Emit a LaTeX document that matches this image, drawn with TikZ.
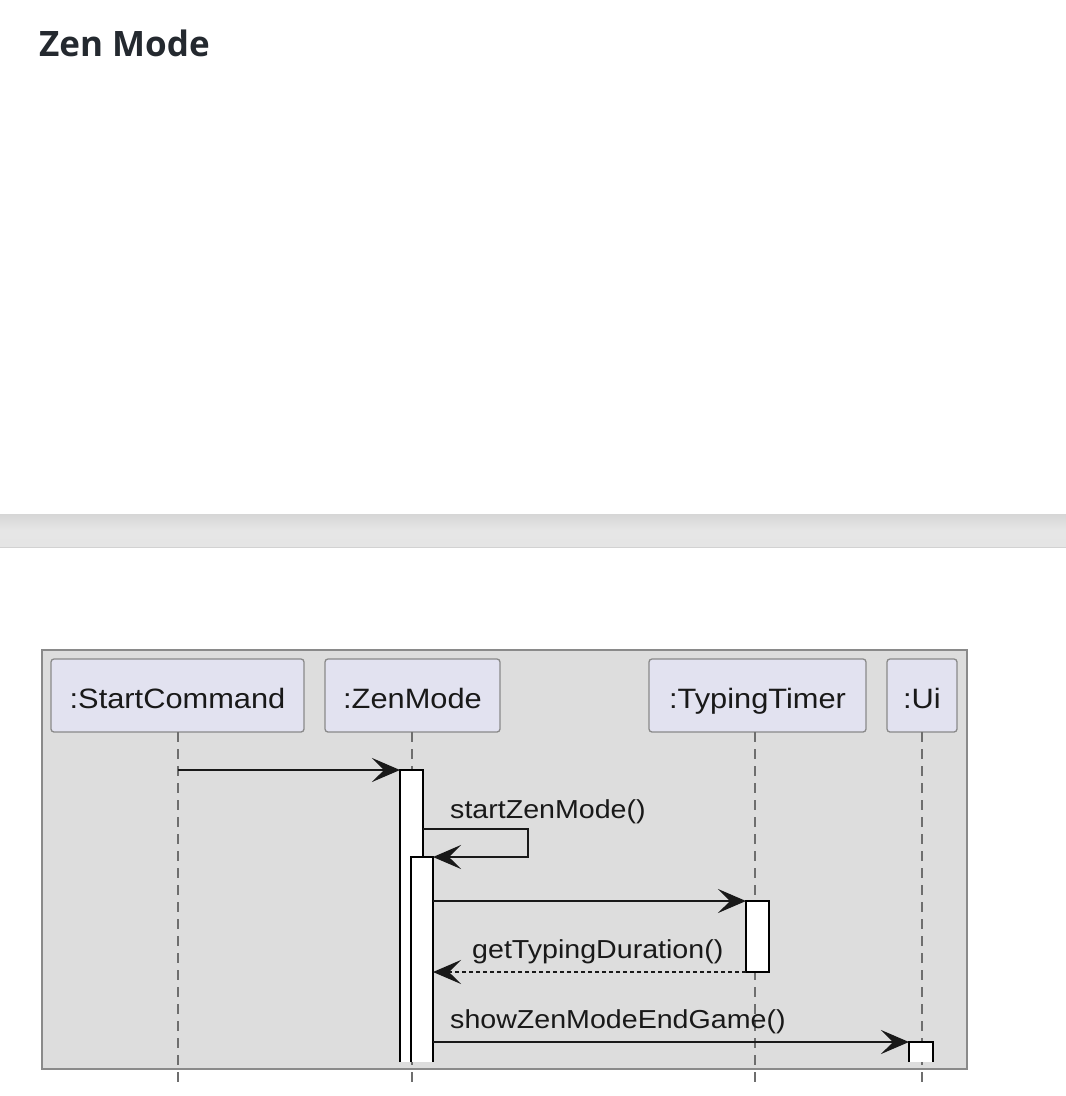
\documentclass[tikz,border=0pt]{standalone}
\usepackage{fontspec}
\usetikzlibrary{arrows.meta}
\newfontfamily\umlfont[FakeStretch=1.1]{Liberation Sans}
\newfontfamily\titlefont{Open Sans}
\definecolor{titlecol}{HTML}{24292F}
\definecolor{framefill}{HTML}{DDDDDD}
\definecolor{framedraw}{HTML}{8A8A8A}
\definecolor{partfill}{HTML}{E2E2F0}
\definecolor{partdraw}{HTML}{8A8A8A}
\definecolor{lifecol}{HTML}{6E6E6E}
\tikzset{
  partbox/.style={draw=partdraw, fill=partfill, line width=1.3pt, rounded corners=3pt},
  partlabel/.style={inner sep=0pt, anchor=base, font=\umlfont\fontsize{28}{30}\selectfont, text=black!90},
  msglabel/.style={inner sep=0pt, anchor=base west, font=\umlfont\fontsize{26}{28}\selectfont, text=black!90},
  lifeline/.style={draw=lifecol, line width=1.4pt, dash pattern=on 10pt off 7pt},
  actbar/.style={draw=black, fill=white, line width=2.2pt},
  msg/.style={draw=black!90, line width=2pt, -{Stealth[length=28pt, width=24pt, inset=12pt]}},
  retmsg/.style={msg, dash pattern=on 4pt off 3pt},
}
\begin{document}
\begin{tikzpicture}[x=1pt, y=-1pt]
\useasboundingbox (0,0) rectangle (1066,1096);
\fill[white] (0,0) rectangle (1066,1096);
% title
\node[anchor=base west, inner sep=0pt, font=\titlefont\bfseries\fontsize{35}{40}\selectfont, text=titlecol] (title) at (39,56) {Zen Mode};
% gray band
\shade[top color={rgb,255:red,214;green,214;blue,214}, bottom color={rgb,255:red,229;green,229;blue,229}, middle color={rgb,255:red,230;green,230;blue,230}] (0,514) rectangle (1066,547);
\draw[draw={rgb,255:red,210;green,210;blue,210}, line width=0.8pt] (0,547) -- (1066,547);
% frame
\node[draw=framedraw, fill=framefill, line width=1.5pt, minimum width=925pt, minimum height=419pt, inner sep=0pt, outer sep=0pt, anchor=north west] (frame) at (42,650) {};
% participants
\node[partbox, minimum width=253pt, minimum height=73pt, outer sep=0pt, anchor=north west] (sc) at (51,659) {};
\node[partbox, minimum width=175pt, minimum height=73pt, outer sep=0pt, anchor=north west] (zm) at (325,659) {};
\node[partbox, minimum width=217pt, minimum height=73pt, outer sep=0pt, anchor=north west] (tt) at (649,659) {};
\node[partbox, minimum width=70pt, minimum height=73pt, outer sep=0pt, anchor=north west] (ui) at (887,659) {};
\node[partlabel] (scl) at (177.5,708) {:StartCommand};
\node[partlabel] (zml) at (412.5,708) {:ZenMode};
\node[partlabel] (ttl) at (757.5,708) {:TypingTimer};
\node[partlabel] (uil) at (922,708) {:Ui};
% lifeline end points
\coordinate (scE) at (178,1083);
\coordinate (zmE) at (412,1083);
\coordinate (ttE) at (755,1083);
\coordinate (uiE) at (922,1083);
\draw[lifeline] (sc.south -| scE) -- (scE);
\draw[lifeline] (zm.south -| zmE) -- (zmE);
\draw[lifeline] (tt.south -| ttE) -- (ttE);
\draw[lifeline] (ui.south -| uiE) -- (uiE);
% activation bars (open at the bottom)
\fill[white] (400,770) rectangle (423,1062);
\draw[actbar, fill=none] (400,1062) -- (400,770) -- (423,770) -- (423,1062);
\fill[white] (411,857) rectangle (433,1062);
\draw[actbar, fill=none] (411,1062) -- (411,857) -- (433,857) -- (433,1062);
\node[actbar, minimum width=23pt, minimum height=71pt, inner sep=0pt, outer sep=0pt, anchor=north west] (ttbar) at (746,901) {};
\fill[white] (909,1042) rectangle (933,1062);
\draw[actbar, fill=none] (909,1062) -- (909,1042) -- (933,1042) -- (933,1062);
% anchor coordinates
\coordinate (a1s) at (178,770);
\coordinate (a1e) at (400,770);
\coordinate (s1) at (423,829);
\coordinate (s2) at (528,829);
\coordinate (s3) at (528,857);
\coordinate (s4) at (433,857);
\coordinate (m2s) at (433,901);
\coordinate (m3e) at (433,972);
\coordinate (m4s) at (433,1042);
\coordinate (m4e) at (909,1042);
% messages
\draw[msg] (a1s) -- (a1e);
\draw[msg] (s1) -- (s2) -- (s3) -- (s4);
\node[msglabel] (l1) at (450,818) {startZenMode()};
\draw[msg] (m2s) -- (ttbar.north west);
\draw[retmsg] (ttbar.south west) -- (m3e);
\node[msglabel] (l2) at (472,958) {getTypingDuration()};
\draw[msg] (m4s) -- (m4e);
\node[msglabel] (l3) at (450,1028) {showZenModeEndGame()};
\end{tikzpicture}
\end{document}
